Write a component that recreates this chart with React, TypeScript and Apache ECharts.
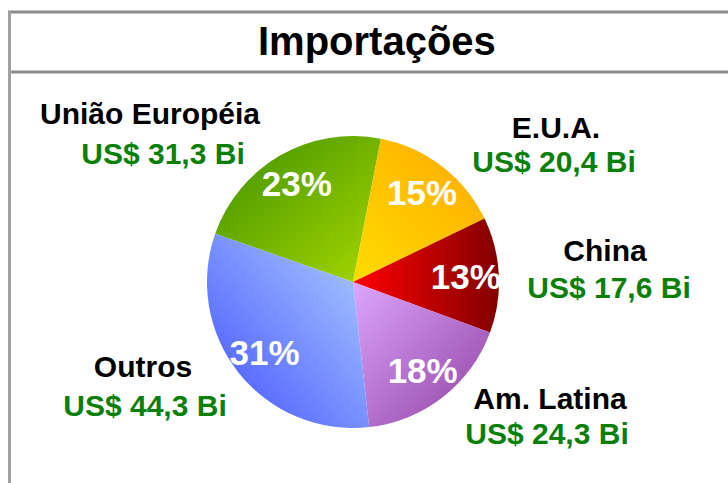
import React, { useEffect, useRef } from "react";
import * as echarts from "echarts";

const categories = ["União Européia", "E.U.A.", "China", "Am. Latina", "Outros"];
const values = [31.3, 20.4, 17.6, 24.3, 44.3];
const valueLabels = ["US$ 31,3 Bi", "US$ 20,4 Bi", "US$ 17,6 Bi", "US$ 24,3 Bi", "US$ 44,3 Bi"];
const pctLabels = ["23%", "15%", "13%", "18%", "31%"];

// layout (not data)
const nameAnchors: [number, number][] = [
  [150, 113],
  [556, 127],
  [605, 250],
  [550, 398],
  [143, 366],
];
const valueAnchors: [number, number][] = [
  [163, 153],
  [554, 161],
  [609, 287],
  [547, 433],
  [145, 405],
];
const gradients: [number, number, number, number, string, string][] = [
  [0, 0, 1, 1, "#3f8f00", "#a6d800"],
  [0, 1, 1, 0, "#ffdc00", "#ffa800"],
  [0, 0, 1, 0, "#ff0000", "#820000"],
  [0, 0, 1, 1, "#dca6ff", "#9040a0"],
  [1, 0, 0, 1, "#b0d0ff", "#4050ff"],
];

const FONT = "'Liberation Sans', Arial, Helvetica, sans-serif";

export default function App() {
  const ref = useRef<HTMLDivElement>(null);
  useEffect(() => {
    if (!ref.current) return;
    const chart = echarts.init(ref.current, undefined, { renderer: "svg" });
    const center = [353, 282];
    const R = 146;
    const data = categories.map((name, i) => {
      const g = gradients[i];
      return {
        name,
        value: values[i],
        itemStyle: {
          color: new echarts.graphic.LinearGradient(g[0], g[1], g[2], g[3], [
            { offset: 0, color: g[4] },
            { offset: 1, color: g[5] },
          ]),
        },
      };
    });
    const plain = categories.map((name, i) => ({ name, value: values[i] }));
    const overlay = (radius: [number, number], label: any, layout?: any) => ({
      type: "pie",
      center,
      radius,
      startAngle: 160.7,
      clockwise: true,
      silent: true,
      data: plain,
      itemStyle: { color: "rgba(0,0,0,0)", borderWidth: 0 },
      labelLine: { show: false },
      label,
      labelLayout: layout,
      emphasis: { disabled: true },
    });
    chart.setOption({
      animation: false,
      backgroundColor: "#ffffff",
      title: {
        text: "Importações",
        left: 253,
        top: 16,
        textStyle: { fontFamily: FONT, fontSize: 40, fontWeight: "bold", color: "#000" },
      },
      graphic: [
        { type: "line", shape: { x1: 8, y1: 12, x2: 728, y2: 12 }, style: { stroke: "#8c8c8c", lineWidth: 3 } },
        { type: "line", shape: { x1: 8, y1: 72, x2: 728, y2: 72 }, style: { stroke: "#8c8c8c", lineWidth: 3 } },
        { type: "line", shape: { x1: 9.5, y1: 11, x2: 9.5, y2: 483 }, style: { stroke: "#a0a0a0", lineWidth: 3 } },
      ],
      series: [
        {
          type: "pie",
          center,
          radius: [0, R],
          startAngle: 160.7,
          clockwise: true,
          data,
          itemStyle: { borderWidth: 0 },
          labelLine: { show: false },
          label: {
            show: true,
            position: "outside",
            formatter: (p: any) => p.name,
            fontFamily: FONT,
            fontSize: 30,
            fontWeight: "bold",
            color: "#000",
          },
          labelLayout: (p: any) => ({
            x: nameAnchors[p.dataIndex][0],
            y: nameAnchors[p.dataIndex][1],
            align: "center",
            verticalAlign: "middle",
          }),
          emphasis: { disabled: true },
        },
        overlay(
          [0, R],
          {
            show: true,
            position: "outside",
            formatter: (p: any) => valueLabels[p.dataIndex],
            fontFamily: FONT,
            fontSize: 30,
            fontWeight: "bold",
            color: "#0a800a",
          },
          (p: any) => ({
            x: valueAnchors[p.dataIndex][0],
            y: valueAnchors[p.dataIndex][1],
            align: "center",
            verticalAlign: "middle",
          })
        ),
        overlay([74, R], {
          show: true,
          position: "inside",
          formatter: (p: any) => pctLabels[p.dataIndex],
          fontFamily: FONT,
          fontSize: 35,
          fontWeight: "bold",
          color: "#fff",
        }),
      ],
    });
    return () => chart.dispose();
  }, []);
  return (
    <div
      ref={ref}
      style={{ position: "absolute", left: 0, top: 0, width: 728, height: 483 }}
    />
  );
}
